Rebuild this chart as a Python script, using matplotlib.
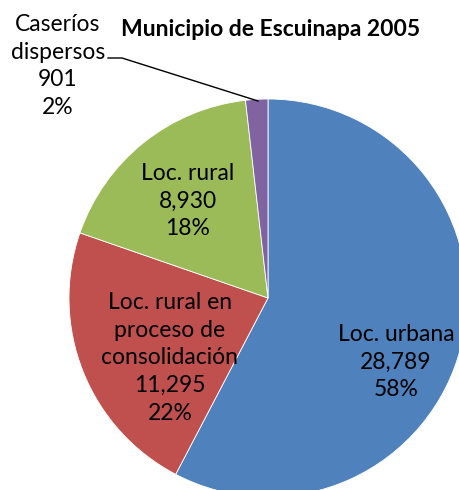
import matplotlib
matplotlib.use("Agg")
import matplotlib.pyplot as plt

# datos
categorias = ['Loc. urbana', 'Loc. rural en\nproceso de\nconsolidación', 'Loc. rural', 'Caseríos\ndispersos']
valores = [28789, 11295, 8930, 901]
porcentajes = [58, 22, 18, 2]
colores = ['#4F81BD', '#C0504D', '#9BBB59', '#8064A2']
titulo = 'Municipio de Escuinapa 2005'

plt.rcParams['font.family'] = ['Lato', 'DejaVu Sans']

W, H = 459, 490
fig = plt.figure(figsize=(W / 100, H / 100), dpi=100)
ax = fig.add_axes([0, 0, 1, 1])

cx, cy, r = 268, H - 298, 199
ax.pie(valores, colors=colores, startangle=90, counterclock=False,
       center=(cx, cy), radius=r, frame=True,
       wedgeprops=dict(edgecolor='white', linewidth=0.6))
ax.set_xlim(0, W)
ax.set_ylim(0, H)
ax.set_aspect('equal')
ax.axis('off')

etiquetas = [f'{c}\n{v:,}\n{p}%' for c, v, p in zip(categorias, valores, porcentajes)]

# posiciones de las etiquetas (pixeles, y desde arriba)
pos = [(396, 362), (170, 358), (188, 201), (58, 66)]
for txt, (x, y) in zip(etiquetas, pos):
    ax.text(x, H - y, txt, ha='center', va='center', fontsize=16.5,
            linespacing=1.4, color='black')

# linea guia de caserios
ax.plot([108, 122, 258], [H - 58, H - 58, H - 101], color='black', lw=1)

ax.text(271, H - 30, titulo, ha='center', va='center', fontsize=16.5,
        fontweight='bold')

fig.savefig('out.png', dpi=100)
